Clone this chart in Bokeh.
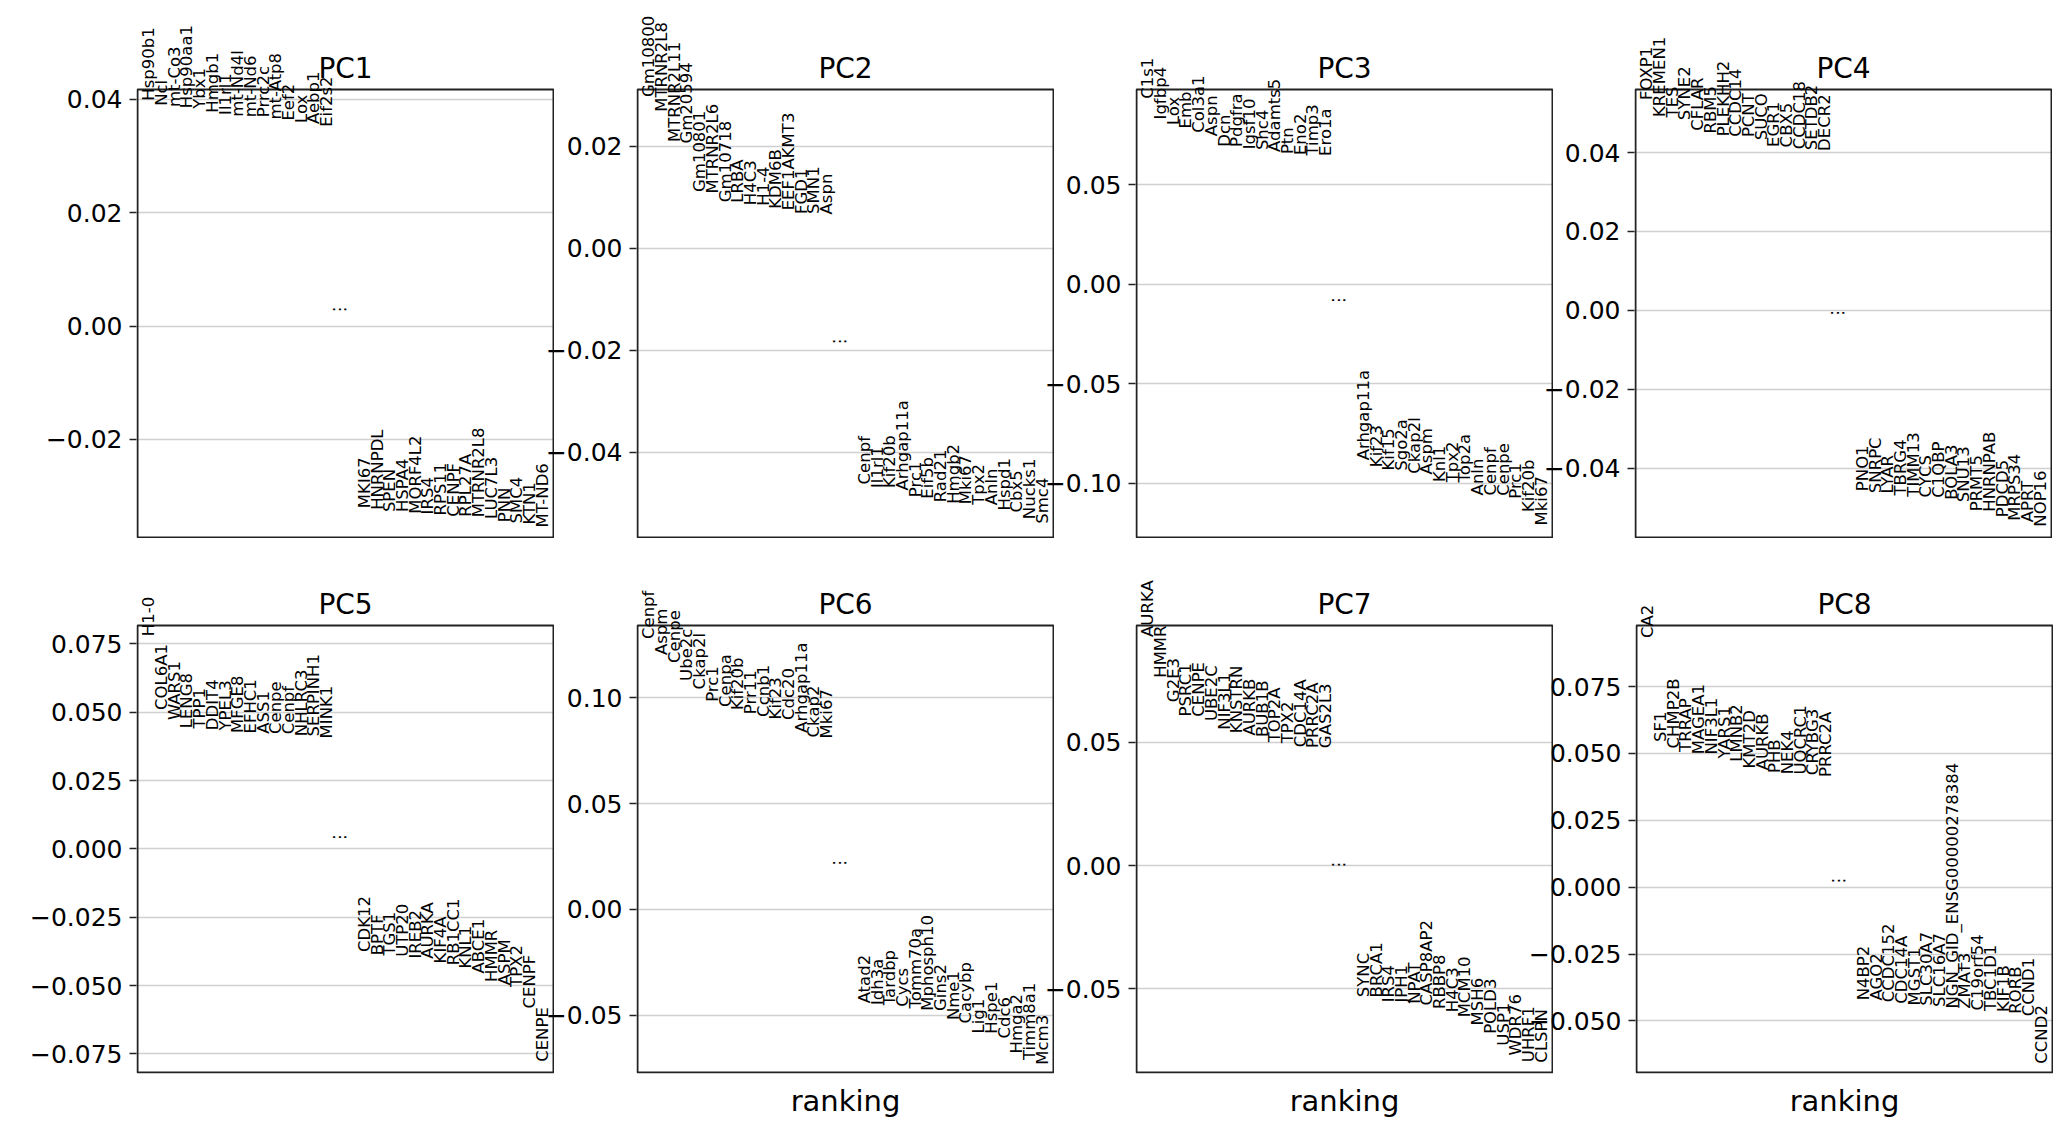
import numpy as np
from bokeh.plotting import figure
from bokeh.models import (Label, Range1d, FixedTicker, CustomJSTickFormatter,
                          BoxAnnotation)
from bokeh.layouts import column, row
from bokeh.embed import file_html
from bokeh.resources import INLINE

# ---- loadings: 15 highest then 15 lowest genes per component ----
pc1_genes = ["Hsp90b1", "Ncl", "mt-Co3", "Hsp90aa1", "Ybx1", "Hmgb1", "Il1rl1", "mt-Nd4l",
             "mt-Nd6", "Prrc2c", "mt-Atp8", "Eef2", "Lox", "Aebp1", "Eif2s2",
             "MKI67", "HNRNPDL", "SPEN", "HSPA4", "MORF4L2", "IRS4", "RPS11", "CENPF",
             "RPL27A", "MTRNR2L8", "LUC7L3", "PNN", "SMC4", "KTN1", "MT-ND6"]
pc1_loadings = [0.0397, 0.0388, 0.0386, 0.0384, 0.0383, 0.0376, 0.0372, 0.0369, 0.0368, 0.0368,
                0.0364, 0.0362, 0.0358, 0.0356, 0.0351,
                -0.0321, -0.0324, -0.0328, -0.0328, -0.0331, -0.0332, -0.0334, -0.0336,
                -0.0336, -0.0337, -0.0340, -0.0346, -0.0348, -0.0350, -0.0355]

pc2_genes = ["Gm10800", "MTRNR2L8", "MTRNR2L11", "Gm20594", "Gm10801", "MTRNR2L6", "Gm10718",
             "LRBA", "H4C3", "H1-4", "KDM6B", "EEF1AKMT3", "FGD1", "SMN1", "Aspn",
             "Cenpf", "Il1rl1", "Kif20b", "Arhgap11a", "Prc1", "Eif5b", "Rad21", "Hmgb2",
             "Mki67", "Tpx2", "Anln", "Hspd1", "Cbx5", "Nucks1", "Smc4"]
pc2_loadings = [0.0296, 0.0267, 0.0208, 0.0205, 0.0110, 0.0107, 0.0090, 0.0089, 0.0084, 0.0083,
                0.0077, 0.0074, 0.0067, 0.0067, 0.0066,
                -0.0463, -0.0470, -0.0470, -0.0475, -0.0488, -0.0491, -0.0498, -0.0501,
                -0.0502, -0.0503, -0.0504, -0.0514, -0.0518, -0.0531, -0.0540]

pc3_genes = ["C1s1", "Igfbp4", "Lox", "Emb", "Col3a1", "Aspn", "Dcn", "Pdgfra", "Igsf10",
             "Shc4", "Adamts5", "Ptn", "Eno2", "Timp3", "Ero1a",
             "Arhgap11a", "Kif23", "Kif15", "Sgo2a", "Ckap2l", "Aspm", "Knl1", "Tpx2",
             "Top2a", "Anln", "Cenpf", "Cenpe", "Prc1", "Kif20b", "Mki67"]
pc3_loadings = [0.0932, 0.0828, 0.0800, 0.0783, 0.0761, 0.0744, 0.0691, 0.0690, 0.0678, 0.0674,
                0.0665, 0.0654, 0.0649, 0.0647, 0.0645,
                -0.0885, -0.0919, -0.0936, -0.0937, -0.0952, -0.0956, -0.0994, -0.0995,
                -0.0996, -0.1061, -0.1062, -0.1063, -0.1078, -0.1145, -0.1212]

pc4_genes = ["FOXP1", "KREMEN1", "TES", "SYNE2", "CFLAR", "RBM5", "PLEKHH2", "CCDC14", "PCNT",
             "SUCO", "EGR1", "CBX5", "CCDC18", "SETDB2", "DECR2",
             "PNO1", "SNRPC", "LYAR", "TBRG4", "TIMM13", "CYCS", "C1QBP", "BOLA3", "SNU13",
             "PRMT5", "HNRNPAB", "PDCD5", "MRPS34", "APRT", "NOP16"]
pc4_loadings = [0.0533, 0.0490, 0.0489, 0.0482, 0.0455, 0.0448, 0.0441, 0.0440, 0.0439, 0.0431,
                0.0414, 0.0413, 0.0408, 0.0406, 0.0404,
                -0.0458, -0.0463, -0.0464, -0.0469, -0.0472, -0.0474, -0.0475, -0.0480,
                -0.0486, -0.0509, -0.0510, -0.0524, -0.0533, -0.0537, -0.0548]

pc5_genes = ["H1-0", "COL6A1", "WARS1", "LENG8", "TPP1", "DDIT4", "YPEL3", "MFGE8", "EFHC1",
             "ASS1", "Cenpe", "Cenpf", "NHLRC3", "SERPINH1", "MINK1",
             "CDK12", "BPTF", "TGS1", "UTP20", "IREB2", "AURKA", "KIF4A", "RB1CC1", "KNL1",
             "ABCE1", "HMMR", "ASPM", "TPX2", "CENPF", "CENPE"]
pc5_loadings = [0.0778, 0.0508, 0.0471, 0.0441, 0.0440, 0.0434, 0.0433, 0.0424, 0.0422, 0.0421,
                0.0420, 0.0419, 0.0412, 0.0411, 0.0404,
                -0.0377, -0.0389, -0.0390, -0.0395, -0.0401, -0.0402, -0.0419, -0.0426,
                -0.0438, -0.0456, -0.0487, -0.0499, -0.0505, -0.0584, -0.0779]

pc6_genes = ["Cenpf", "Aspm", "Cenpe", "Ube2c", "Ckap2l", "Prc1", "Cenpa", "Kif20b", "Prr11",
             "Ccnb1", "Kif23", "Cdc20", "Arhgap11a", "Ckap2", "Mki67",
             "Atad2", "Idh3a", "Tardbp", "Cycs", "Tomm70a", "Mphosph10", "Gins2", "Nme1",
             "Cacybp", "Lig1", "Hspe1", "Cdc6", "Hmga2", "Timm8a1", "Mcm3"]
pc6_loadings = [0.1278, 0.1202, 0.1165, 0.1080, 0.1040, 0.0981, 0.0957, 0.0942, 0.0923, 0.0910,
                0.0898, 0.0895, 0.0835, 0.0813, 0.0808,
                -0.0444, -0.0452, -0.0453, -0.0460, -0.0468, -0.0479, -0.0480, -0.0523,
                -0.0539, -0.0586, -0.0587, -0.0610, -0.0681, -0.0712, -0.0734]

pc7_genes = ["AURKA", "HMMR", "G2E3", "PSRC1", "CENPE", "UBE2C", "NIF3L1", "KNSTRN", "AURKB",
             "BUB1B", "TOP2A", "TPX2", "CDC14A", "PRRC2A", "GAS2L3",
             "SYNC", "BRCA1", "IRS4", "JPH1", "NPAT", "CASP8AP2", "RBBP8", "H4C3", "MCM10",
             "MSH6", "POLD3", "USP1", "WDR76", "UHRF1", "CLSPN"]
pc7_loadings = [0.0929, 0.0763, 0.0664, 0.0606, 0.0605, 0.0587, 0.0552, 0.0538, 0.0528, 0.0522,
                0.0501, 0.0497, 0.0481, 0.0478, 0.0477,
                -0.0535, -0.0536, -0.0556, -0.0557, -0.0562, -0.0569, -0.0583, -0.0596,
                -0.0617, -0.0650, -0.0684, -0.0732, -0.0772, -0.0799, -0.0801]

pc8_genes = ["CA2", "SF1", "CHMP2B", "TRRAP", "MAGEA1", "NIF3L1", "YARS1", "LMNB2", "KMT2D",
             "AURKB", "PHB", "NEK4", "UQCRC1", "CRYBG3", "PRRC2A",
             "N4BP2", "AGO2", "CCDC152", "CDC14A", "MGST1", "SLC30A7", "SLC16A7",
             "NGN_GID_ENSG00000278384", "ZMAT3", "C19orf54", "TBC1D1", "KIF1B", "RORB",
             "CCND1", "CCND2"]
pc8_loadings = [0.0932, 0.0543, 0.0519, 0.0506, 0.0497, 0.0496, 0.0481, 0.0469, 0.0444, 0.0437,
                0.0427, 0.0422, 0.0421, 0.0419, 0.0412,
                -0.0423, -0.0424, -0.0430, -0.0436, -0.0442, -0.0443, -0.0448, -0.0454,
                -0.0455, -0.0461, -0.0463, -0.0467, -0.0473, -0.0483, -0.0660]

components = ["PC1", "PC2", "PC3", "PC4", "PC5", "PC6", "PC7", "PC8"]
gene_lists = [pc1_genes, pc2_genes, pc3_genes, pc4_genes,
              pc5_genes, pc6_genes, pc7_genes, pc8_genes]
loading_lists = [pc1_loadings, pc2_loadings, pc3_loadings, pc4_loadings,
                 pc5_loadings, pc6_loadings, pc7_loadings, pc8_loadings]
tick_steps = [0.02, 0.02, 0.05, 0.02, 0.025, 0.05, 0.05, 0.025]
tick_digits = [2, 2, 2, 2, 3, 2, 2, 3]

FONT = "DejaVu Sans"
N_TOP = 15
BOX_W = 416                      # width of the axes box
BOX_H = [448, 447]               # height of the axes box (upper row, lower row)
HEAD = [89, 87]                  # room above the box for title and long names
FOOT = [0, 59]                   # room below the box (x-axis label)
PAD = 1                          # keeps the box outline fully inside the frame
LEFT_PAD = [137, 110, 110, 110]
SHIFT = [0, -27, -28, -28]       # pulls panels together so tick labels may overhang
TITLE_GAP = 21                   # px from box top to the title anchor
INK = "#222222"

tick_code = """
const s = tick.toFixed(d);
if (s.replace('-', '') === (0).toFixed(d)) { return (0).toFixed(d); }
return s.replace('-', '\u2212');
"""


def rotated_label(x, y, text):
    # vertical text whose start sits at (x, y), centred on x
    return Label(x=x, y=y, text=text, angle=90, angle_units="deg",
                 text_align="left", text_baseline="middle",
                 text_font=FONT, text_font_size="16.5px", text_color="black")


def make_panel(i):
    genes = gene_lists[i]
    scores = np.asarray(loading_lists[i], dtype=float)
    r = 0 if i < 4 else 1
    col = i % 4
    n_bot = len(scores) - N_TOP
    xs = list(range(N_TOP)) + list(range(N_TOP + 2, N_TOP + 2 + n_bot))

    # axes limits: a little breathing room around the extreme loadings
    lo, hi = scores.min(), scores.max()
    y_lo = 1.05 * lo if lo < 0 else 0.95 * lo
    y_hi = 1.05 * hi if hi > 0 else 0.95 * hi
    x_lo, x_hi = -0.9, xs[-1] + 0.9

    # the frame also covers the strip above the box so long names are not cut
    dy = (y_hi - y_lo) / BOX_H[r]
    dx = (x_hi - x_lo) / BOX_W
    p = figure(frame_width=BOX_W + 2 * PAD, frame_height=HEAD[r] + BOX_H[r] + PAD,
               x_range=Range1d(x_lo - PAD * dx, x_hi + PAD * dx),
               y_range=Range1d(y_lo - PAD * dy, y_hi + HEAD[r] * dy),
               output_backend="svg", toolbar_location=None, tools="",
               min_border_left=LEFT_PAD[col] - PAD, min_border_right=0,
               min_border_top=0, min_border_bottom=FOOT[r])
    p.margin = (0, 0, 0, SHIFT[col])
    p.border_fill_color = None
    p.background_fill_color = "white"
    p.outline_line_color = None

    p.add_layout(BoxAnnotation(left=x_lo, right=x_hi, bottom=y_lo, top=y_hi,
                               fill_color=None, fill_alpha=0,
                               line_color=INK, line_alpha=1.0, line_width=2))

    p.xgrid.visible = False
    p.ygrid.grid_line_color = "#d0d0d0"
    p.ygrid.grid_line_width = 1.5

    step = tick_steps[i]
    ticks = [round(k * step, 6) for k in range(int(np.ceil(y_lo / step)),
                                                 int(np.floor(y_hi / step)) + 1)]
    ya = p.yaxis[0]
    ya.ticker = FixedTicker(ticks=ticks)
    ya.formatter = CustomJSTickFormatter(args=dict(d=tick_digits[i]), code=tick_code)
    ya.axis_line_color = None
    ya.major_tick_out = 7
    ya.major_tick_in = 0
    ya.major_tick_line_width = 1.5
    ya.major_tick_line_color = INK
    ya.minor_tick_line_color = None
    ya.major_label_text_font = FONT
    ya.major_label_text_font_size = "25px"
    ya.major_label_text_color = "black"
    ya.major_label_standoff = 7

    xa = p.xaxis[0]
    if i > 4:
        xa.ticker = FixedTicker(ticks=[])
        xa.axis_line_color = None
        xa.major_tick_line_color = None
        xa.minor_tick_line_color = None
        xa.axis_label = "ranking"
        xa.axis_label_text_font = FONT
        xa.axis_label_text_font_size = "29px"
        xa.axis_label_text_font_style = "normal"
        xa.axis_label_text_color = "black"
        xa.axis_label_standoff = 10
    else:
        xa.visible = False

    # panel title, just above the box
    p.add_layout(Label(x=(x_lo + x_hi) / 2, y=y_hi + TITLE_GAP * dy, text=components[i],
                       text_align="center", text_baseline="alphabetic",
                       text_font=FONT, text_font_size="28px", text_color="black"))

    for x, y, g in zip(xs, scores, genes):
        p.add_layout(rotated_label(x, float(y), g))

    mid = (scores[N_TOP - 1] + scores[N_TOP]) / 2
    p.add_layout(rotated_label(N_TOP, float(mid), "\u22ee"))
    return p


panels = [make_panel(i) for i in range(8)]
layout = column(row(*panels[:4]), row(*panels[4:]))

html = file_html(layout, INLINE, title="PCA loadings")
with open("out.html", "w", encoding="utf-8") as fh:
    fh.write(html)
